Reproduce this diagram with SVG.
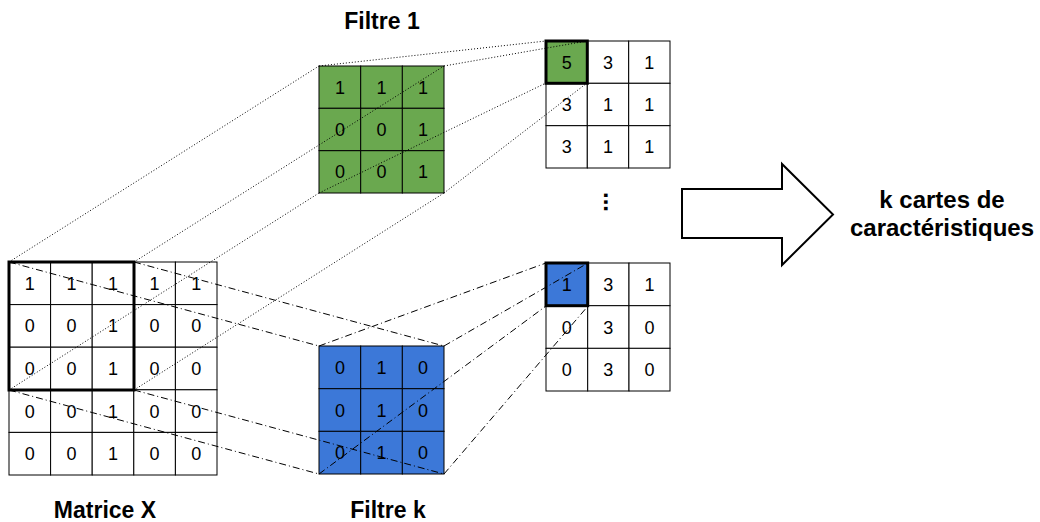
<svg xmlns="http://www.w3.org/2000/svg" width="1040" height="522" viewBox="0 0 1040 522">
<style>
.c{fill:#fff;stroke:#000;stroke-width:1}
.g{fill:#6aa84f;stroke:#000;stroke-width:1}
.b{fill:#3c78d8;stroke:#000;stroke-width:1}
.bold{fill:none;stroke:#000;stroke-width:3}
.n{font-family:"Liberation Sans",Arial,sans-serif;font-size:18px;fill:#000;text-anchor:middle}
.t{font-family:"Liberation Sans",Arial,sans-serif;font-size:23px;font-weight:bold;fill:#000;text-anchor:middle}
.dot{stroke:#000;stroke-width:1;stroke-dasharray:1 2;fill:none}
.dd{stroke:#000;stroke-width:1;stroke-dasharray:7 3 1 3;fill:none}
</style>
<rect width="1040" height="522" fill="#fff"/>

<g id="matrice-x">
<g class="c">
<rect x="9" y="262" width="41.6" height="42.6"/><rect x="50.6" y="262" width="41.6" height="42.6"/><rect x="92.2" y="262" width="41.6" height="42.6"/><rect x="133.8" y="262" width="41.6" height="42.6"/><rect x="175.4" y="262" width="41.6" height="42.6"/>
<rect x="9" y="304.6" width="41.6" height="42.6"/><rect x="50.6" y="304.6" width="41.6" height="42.6"/><rect x="92.2" y="304.6" width="41.6" height="42.6"/><rect x="133.8" y="304.6" width="41.6" height="42.6"/><rect x="175.4" y="304.6" width="41.6" height="42.6"/>
<rect x="9" y="347.2" width="41.6" height="42.6"/><rect x="50.6" y="347.2" width="41.6" height="42.6"/><rect x="92.2" y="347.2" width="41.6" height="42.6"/><rect x="133.8" y="347.2" width="41.6" height="42.6"/><rect x="175.4" y="347.2" width="41.6" height="42.6"/>
<rect x="9" y="389.8" width="41.6" height="42.6"/><rect x="50.6" y="389.8" width="41.6" height="42.6"/><rect x="92.2" y="389.8" width="41.6" height="42.6"/><rect x="133.8" y="389.8" width="41.6" height="42.6"/><rect x="175.4" y="389.8" width="41.6" height="42.6"/>
<rect x="9" y="432.4" width="41.6" height="42.6"/><rect x="50.6" y="432.4" width="41.6" height="42.6"/><rect x="92.2" y="432.4" width="41.6" height="42.6"/><rect x="133.8" y="432.4" width="41.6" height="42.6"/><rect x="175.4" y="432.4" width="41.6" height="42.6"/>
</g>
<g class="n">
<text x="29.8" y="289.8">1</text><text x="71.4" y="289.8">1</text><text x="113" y="289.8">1</text><text x="154.6" y="289.8">1</text><text x="196.2" y="289.8">1</text>
<text x="29.8" y="332.4">0</text><text x="71.4" y="332.4">0</text><text x="113" y="332.4">1</text><text x="154.6" y="332.4">0</text><text x="196.2" y="332.4">0</text>
<text x="29.8" y="375">0</text><text x="71.4" y="375">0</text><text x="113" y="375">1</text><text x="154.6" y="375">0</text><text x="196.2" y="375">0</text>
<text x="29.8" y="417.6">0</text><text x="71.4" y="417.6">0</text><text x="113" y="417.6">1</text><text x="154.6" y="417.6">0</text><text x="196.2" y="417.6">0</text>
<text x="29.8" y="460.2">0</text><text x="71.4" y="460.2">0</text><text x="113" y="460.2">1</text><text x="154.6" y="460.2">0</text><text x="196.2" y="460.2">0</text>
</g>
<rect class="bold" x="9" y="262" width="125" height="128"/>
<text class="t" x="105" y="518">Matrice X</text>
</g>

<g id="filtre-1">
<g class="g">
<rect x="319" y="66" width="41.7" height="42.3"/><rect x="360.7" y="66" width="41.7" height="42.3"/><rect x="402.3" y="66" width="41.7" height="42.3"/>
<rect x="319" y="108.3" width="41.7" height="42.3"/><rect x="360.7" y="108.3" width="41.7" height="42.3"/><rect x="402.3" y="108.3" width="41.7" height="42.3"/>
<rect x="319" y="150.7" width="41.7" height="42.3"/><rect x="360.7" y="150.7" width="41.7" height="42.3"/><rect x="402.3" y="150.7" width="41.7" height="42.3"/>
</g>
<g class="n">
<text x="340" y="93.5">1</text><text x="381.5" y="93.5">1</text><text x="423" y="93.5">1</text>
<text x="340" y="135.8">0</text><text x="381.5" y="135.8">0</text><text x="423" y="135.8">1</text>
<text x="340" y="178.2">0</text><text x="381.5" y="178.2">0</text><text x="423" y="178.2">1</text>
</g>
<text class="t" x="382" y="29">Filtre 1</text>
</g>

<g id="carte-1">
<rect class="g" x="546" y="41" width="41.3" height="42.3"/>
<g class="c">
<rect x="587.3" y="41" width="41.3" height="42.3"/><rect x="628.7" y="41" width="41.3" height="42.3"/>
<rect x="546" y="83.3" width="41.3" height="42.3"/><rect x="587.3" y="83.3" width="41.3" height="42.3"/><rect x="628.7" y="83.3" width="41.3" height="42.3"/>
<rect x="546" y="125.7" width="41.3" height="42.3"/><rect x="587.3" y="125.7" width="41.3" height="42.3"/><rect x="628.7" y="125.7" width="41.3" height="42.3"/>
</g>
<rect class="bold" x="546" y="41" width="41.3" height="42.3"/>
<g class="n">
<text x="566.7" y="68.5">5</text><text x="608" y="68.5">3</text><text x="649.3" y="68.5">1</text>
<text x="566.7" y="110.8">3</text><text x="608" y="110.8">1</text><text x="649.3" y="110.8">1</text>
<text x="566.7" y="153.2">3</text><text x="608" y="153.2">1</text><text x="649.3" y="153.2">1</text>
</g>
</g>

<g id="ellipsis">
<text transform="translate(604,192) rotate(90)" style="font-family:'Liberation Sans',Arial,sans-serif;font-size:24px;font-weight:bold" fill="#000">...</text>
</g>

<g id="filtre-k">
<g class="b">
<rect x="319" y="346" width="41.7" height="42.7"/><rect x="360.7" y="346" width="41.7" height="42.7"/><rect x="402.3" y="346" width="41.7" height="42.7"/>
<rect x="319" y="388.7" width="41.7" height="42.7"/><rect x="360.7" y="388.7" width="41.7" height="42.7"/><rect x="402.3" y="388.7" width="41.7" height="42.7"/>
<rect x="319" y="431.3" width="41.7" height="42.7"/><rect x="360.7" y="431.3" width="41.7" height="42.7"/><rect x="402.3" y="431.3" width="41.7" height="42.7"/>
</g>
<g class="n">
<text x="340" y="373.8">0</text><text x="381.5" y="373.8">1</text><text x="423" y="373.8">0</text>
<text x="340" y="416.5">0</text><text x="381.5" y="416.5">1</text><text x="423" y="416.5">0</text>
<text x="340" y="459.2">0</text><text x="381.5" y="459.2">1</text><text x="423" y="459.2">0</text>
</g>
<text class="t" x="388" y="518">Filtre k</text>
</g>

<g id="carte-k">
<rect class="b" x="546" y="263" width="41.7" height="42.7"/>
<g class="c">
<rect x="587.7" y="263" width="41.3" height="42.7"/><rect x="629" y="263" width="41" height="42.7"/>
<rect x="546" y="305.7" width="41.7" height="42.7"/><rect x="587.7" y="305.7" width="41.3" height="42.7"/><rect x="629" y="305.7" width="41" height="42.7"/>
<rect x="546" y="348.3" width="41.7" height="42.7"/><rect x="587.7" y="348.3" width="41.3" height="42.7"/><rect x="629" y="348.3" width="41" height="42.7"/>
</g>
<rect class="bold" x="546" y="263" width="41.7" height="42.7"/>
<g class="n">
<text x="566.8" y="290.8">1</text><text x="608.3" y="290.8">3</text><text x="649.5" y="290.8">1</text>
<text x="566.8" y="333.5">0</text><text x="608.3" y="333.5">3</text><text x="649.5" y="333.5">0</text>
<text x="566.8" y="376.2">0</text><text x="608.3" y="376.2">3</text><text x="649.5" y="376.2">0</text>
</g>
</g>

<g id="fleche">
<polygon points="682,189 782,189 782,164 833,214.5 782,265 782,238 682,238" fill="#fff" stroke="#000" stroke-width="2" stroke-linejoin="miter"/>
</g>

<g id="resultat">
<text class="t" x="942" y="208" style="font-size:24px">k cartes de</text>
<text class="t" x="942" y="236" style="font-size:24px">caractéristiques</text>
</g>

<g id="connecteurs">
<g class="dot">
<line x1="9" y1="262" x2="319" y2="66"/>
<line x1="134" y1="262" x2="444" y2="66"/>
<line x1="9" y1="390" x2="319" y2="193"/>
<line x1="134" y1="390" x2="444" y2="193"/>
<line x1="319" y1="66" x2="546" y2="41"/>
<line x1="444" y1="66" x2="587" y2="41"/>
<line x1="319" y1="193" x2="546" y2="83"/>
<line x1="444" y1="193" x2="587" y2="83"/>
</g>
<g class="dd">
<line x1="9" y1="262" x2="319" y2="346"/>
<line x1="134" y1="262" x2="444" y2="346"/>
<line x1="9" y1="390" x2="319" y2="474"/>
<line x1="134" y1="390" x2="444" y2="474"/>
<line x1="319" y1="346" x2="546" y2="263"/>
<line x1="444" y1="346" x2="588" y2="263"/>
<line x1="319" y1="474" x2="546" y2="306"/>
<line x1="444" y1="474" x2="588" y2="306"/>
</g>
</g>
</svg>
